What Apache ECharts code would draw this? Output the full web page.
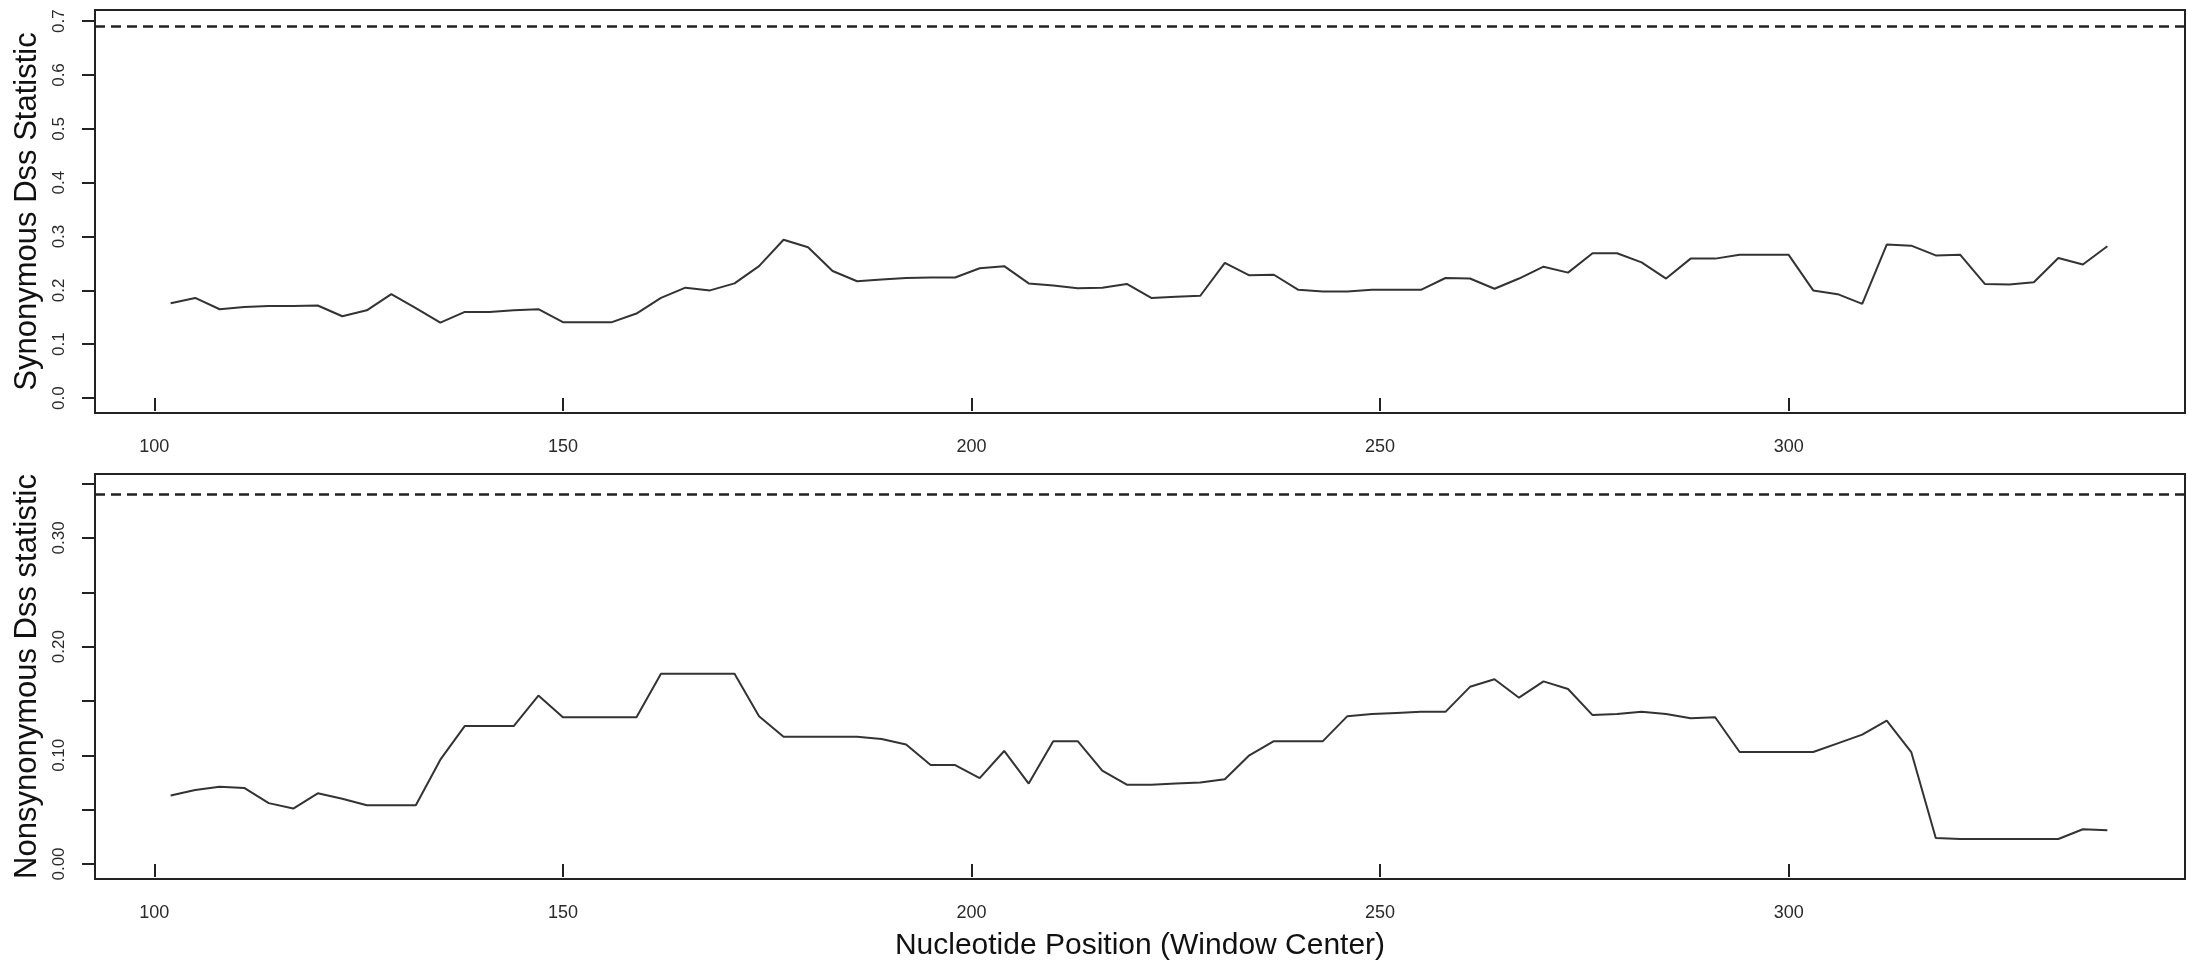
<!DOCTYPE html>
<html>
<head>
<meta charset="utf-8">
<script src="https://cdn.jsdelivr.net/npm/echarts@6/dist/echarts.min.js"></script>
<style>
html,body{margin:0;padding:0;background:#fff;}
#chart{width:2188px;height:967px;}
</style>
</head>
<body>
<div id="chart"></div>
<script>
// Window centers (nucleotide positions)
const positions = [102,105,108,111,114,117,120,123,126,129,132,135,138,141,144,147,150,153,156,159,
  162,165,168,171,174,177,180,183,186,189,192,195,198,201,204,207,210,213,216,219,
  222,225,228,231,234,237,240,243,246,249,252,255,258,261,264,267,270,273,276,279,
  282,285,288,291,294,297,300,303,306,309,312,315,318,321,324,327,330,333,336,339];

// Synonymous Dss statistic
const synValues = [0.176,0.186,0.165,0.169,0.171,0.171,0.172,0.152,0.163,0.193,
  0.167,0.140,0.160,0.160,0.163,0.165,0.141,0.141,0.141,0.157,
  0.186,0.205,0.200,0.213,0.245,0.294,0.280,0.236,0.217,0.220,
  0.223,0.224,0.224,0.241,0.245,0.213,0.209,0.204,0.205,0.212,
  0.186,0.188,0.190,0.251,0.228,0.229,0.201,0.198,0.198,0.201,
  0.201,0.201,0.223,0.222,0.203,0.222,0.244,0.233,0.269,0.269,
  0.252,0.222,0.259,0.259,0.266,0.266,0.266,0.200,0.193,0.175,
  0.285,0.283,0.265,0.266,0.212,0.211,0.215,0.260,0.248,0.282];

// Nonsynonymous Dss statistic
const nonValues = [0.063,0.068,0.071,0.070,0.056,0.051,0.065,0.060,0.054,0.054,
  0.054,0.096,0.127,0.127,0.127,0.155,0.135,0.135,0.135,0.135,
  0.175,0.175,0.175,0.175,0.136,0.117,0.117,0.117,0.117,0.115,
  0.110,0.091,0.091,0.079,0.104,0.074,0.113,0.113,0.086,0.073,
  0.073,0.074,0.075,0.078,0.100,0.113,0.113,0.113,0.136,0.138,
  0.139,0.140,0.140,0.163,0.170,0.153,0.168,0.161,0.137,0.138,
  0.140,0.138,0.134,0.135,0.103,0.103,0.103,0.103,0.111,0.119,
  0.132,0.103,0.024,0.023,0.023,0.023,0.023,0.023,0.032,0.031];

// Significance thresholds (dashed lines)
const synThreshold = 0.693;
const nonThreshold = 0.345;

// Tick values
const xTicks = [100,150,200,250,300];
const synYTicks = [0,0.1,0.2,0.3,0.4,0.5,0.6,0.7];
const nonYTicks = [0,0.05,0.10,0.15,0.20,0.25,0.30,0.35];
const nonYLabels = [0,0.10,0.20,0.30];

const xMin = 92.74, xMax = 348.5;
const synMin = -0.0277, synMax = 0.7207;
const nonMin = -0.0138, nonMax = 0.3588;

const FONT = 'Liberation Sans, Arial, sans-serif';
const tickColor = '#222';
const labelColor = '#2a2a2a';

function xAxis(idx, withName){
  const a = {
    type:'value', gridIndex: idx, min: xMin, max: xMax,
    axisLine:{show:false},
    axisTick:{show:true, length:13, lineStyle:{color:tickColor, width:2}, customValues: xTicks},
    axisLabel:{customValues: xTicks, fontSize:18, color:labelColor, margin:25, fontFamily:FONT},
    splitLine:{show:false}
  };
  if (withName){
    a.name = 'Nucleotide Position (Window Center)';
    a.nameLocation = 'middle';
    a.nameGap = 52;
    a.nameTextStyle = {fontSize:30, color:'#111', fontFamily:FONT};
  }
  return a;
}

function yAxis(idx, name, min, max, ticks, labels, dec){
  return {
    type:'value', gridIndex: idx, min: min, max: max,
    name: name, nameLocation:'middle', nameRotate:90, nameGap:48,
    nameTextStyle:{fontSize:31, color:'#111', fontFamily:FONT},
    axisLine:{show:false},
    axisTick:{show:true, length:13, lineStyle:{color:tickColor, width:2}, customValues: ticks},
    axisLabel:{customValues: labels, rotate:90, fontSize:17, color:labelColor, margin:27, fontFamily:FONT,
      formatter: v => Number(v).toFixed(dec)},
    splitLine:{show:false}
  };
}

function lineSeries(idx, values, threshold){
  return {
    type:'line', xAxisIndex: idx, yAxisIndex: idx,
    data: positions.map((p,i)=>[p, values[i]]),
    showSymbol:false, symbol:'none',
    lineStyle:{color:'#333', width:2},
    animation:false,
    markLine:{
      silent:true, symbol:['none','none'], label:{show:false},
      lineStyle:{type:[10,6], color:'#222', width:2.5},
      data:[{yAxis: threshold}],
      animation:false
    }
  };
}

const chart = echarts.init(document.getElementById('chart'), null, {renderer:'canvas'});
chart.setOption({
  backgroundColor:'#fff',
  animation:false,
  grid:[
    {left:95, top:10, width:2090, height:403, show:true, borderColor:'#222', borderWidth:2, backgroundColor:'transparent'},
    {left:95, top:474, width:2090, height:405, show:true, borderColor:'#222', borderWidth:2, backgroundColor:'transparent'}
  ],
  xAxis:[xAxis(0,false), xAxis(1,true)],
  yAxis:[
    yAxis(0,'Synonymous Dss Statistic', synMin, synMax, synYTicks, synYTicks, 1),
    yAxis(1,'Nonsynonymous Dss statistic', nonMin, nonMax, nonYTicks, nonYLabels, 2)
  ],
  series:[
    lineSeries(0, synValues, synThreshold),
    lineSeries(1, nonValues, nonThreshold)
  ]
});
</script>
</body>
</html>
